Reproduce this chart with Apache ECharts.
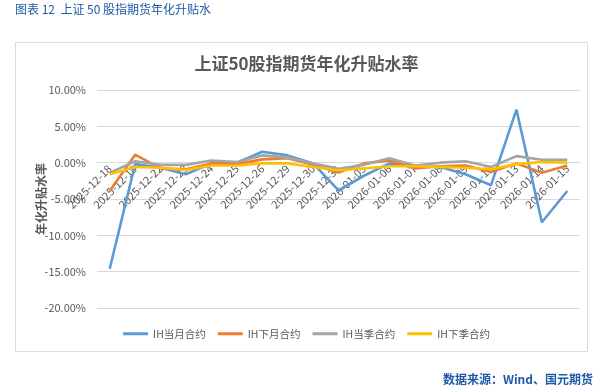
<!DOCTYPE html>
<html><head><meta charset="utf-8">
<script src="https://cdn.jsdelivr.net/npm/echarts@6/dist/echarts.min.js"></script>
<style>html,body{margin:0;padding:0;background:#fff}#c{width:613px;height:391px}</style>
</head><body><div id="c"></div>
<script>
const categories = ['2025-12-18','2025-12-19','2025-12-22','2025-12-23','2025-12-24','2025-12-25','2025-12-26','2025-12-29','2025-12-30','2025-12-31','2026-01-05','2026-01-06','2026-01-07','2026-01-08','2026-01-09','2026-01-12','2026-01-13','2026-01-14','2026-01-15'];
const ihCurMonth = [-14.6,-0.2,-0.7,-1.6,-0.1,0.0,1.5,1.0,-0.1,-3.8,-1.8,-0.1,-0.5,-0.6,-1.6,-3.1,7.3,-8.2,-3.9];
const ihNextMonth = [-3.9,1.1,-0.8,-0.9,-0.1,-0.2,0.45,0.6,-0.3,-1.35,-0.1,0.3,-0.8,-0.5,-0.4,-1.3,-0.1,-1.4,-0.4];
const ihCurQuarter = [-1.4,0.2,-0.3,-0.3,0.3,0.1,1.0,0.7,-0.1,-0.85,-0.3,0.6,-0.4,0.0,0.2,-0.6,0.9,0.4,0.4];
const ihNextQuarter = [-1.6,-0.6,-0.7,-1.0,-0.4,-0.4,-0.1,-0.1,-0.6,-1.05,-0.8,-0.5,-0.5,-0.6,-0.7,-0.9,-0.2,0.1,0.0];
const seriesNames = ['IH当月合约','IH下月合约','IH当季合约','IH下季合约'];
const colors = ['#5B9BD5','#ED7D31','#A5A5A5','#FFC000'];
const yMin = -20, yMax = 10, yStep = 5;

const font = '"Noto Sans CJK SC","Noto Sans",sans-serif';
const chart = echarts.init(document.getElementById('c'));
const allData = [ihCurMonth, ihNextMonth, ihCurQuarter, ihNextQuarter];
chart.setOption({
  animation: false,
  textStyle: {fontFamily: font},
  graphic: [
    {type:'rect', shape:{x:15.5,y:42.5,width:572,height:309}, style:{fill:'none', stroke:'#d9dce6', lineWidth:1}},
    {type:'text', left:15, top:3, style:{text:'图表 12  上证 50 股指期货年化升贴水', fill:'#1f5aa6', font:'12px '+font}},
    {type:'text', right:20, top:373, style:{text:'数据来源：Wind、国元期货', fill:'#1f5aa6', font:'bold 12px '+font}}
  ],
  title: {text:'上证50股指期货年化升贴水率', left:'center', top:50, textStyle:{fontSize:17, fontWeight:'bold', color:'#595959', fontFamily:font}},
  legend: {bottom:47, left:'center', icon:'rect', itemWidth:25, itemHeight:3, itemGap:12,
    textStyle:{fontSize:10.5, color:'#595959', fontFamily:font}, data: seriesNames},
  grid: {left:97, right:33, top:90, bottom:83},
  xAxis: {type:'category', data: categories, boundaryGap:true,
    axisLine:{show:true, onZero:false, lineStyle:{color:'#d9d9d9'}}, axisTick:{show:false},
    axisLabel:{rotate:45, interval:0, fontSize:11, color:'#595959', margin:4}},
  yAxis: {type:'value', min:yMin, max:yMax, interval:yStep,
    name:'年化升贴水率', nameLocation:'middle', nameGap:50, nameRotate:90, nameMoveOverlap:false,
    nameTextStyle:{fontSize:12, fontWeight:'bold', color:'#595959'},
    axisLine:{show:false}, axisTick:{show:false},
    axisLabel:{fontSize:11, color:'#595959', margin:11, formatter:v=>v.toFixed(2)+'%'},
    splitLine:{lineStyle:{color:'#d9d9d9'}}},
  series: seriesNames.map((n,i)=>({name:n, type:'line', data:allData[i], symbol:'none',
    lineStyle:{width:2.6, color:colors[i]}, itemStyle:{color:colors[i]}}))
});
// move x axis (line + labels) up to the zero line, as in the original
const yZero = chart.convertToPixel({yAxisIndex:0}, 0);
const yBottom = chart.convertToPixel({yAxisIndex:0}, yMin);
chart.setOption({xAxis:{offset: -(yBottom - yZero)}});
</script></body></html>
